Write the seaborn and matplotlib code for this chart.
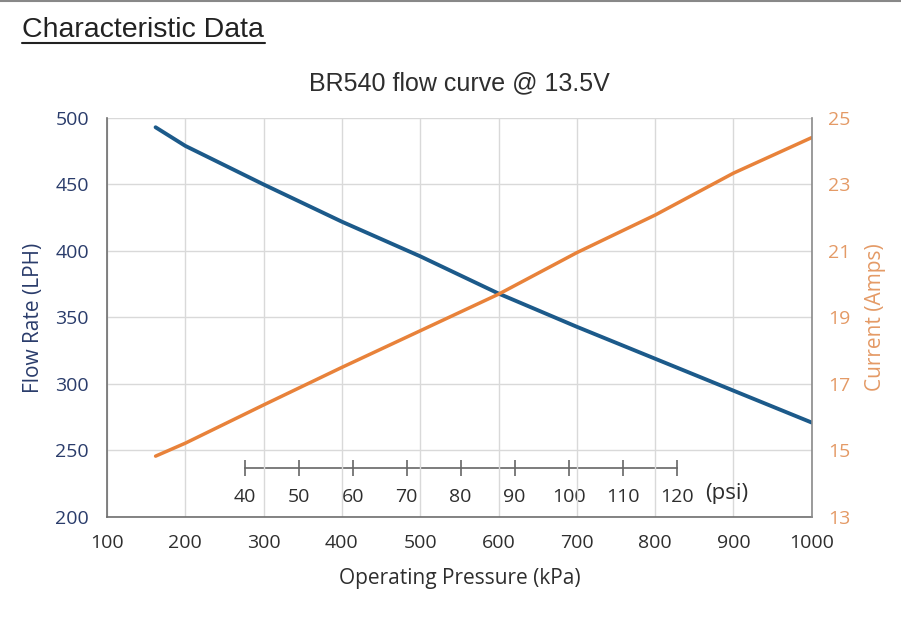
import seaborn as sns
import matplotlib.pyplot as plt
import pandas as pd
import numpy as np
from matplotlib.lines import Line2D

# values
pressure_kpa = [162, 200, 300, 400, 500, 600, 700, 800, 900, 1000]
flow_lph = [493, 479, 450, 422, 396, 368, 343, 319, 295, 271]
current_amps = [14.83, 15.22, 16.37, 17.5, 18.6, 19.7, 20.95, 22.08, 23.34, 24.41]

flow_ticks = [200, 250, 300, 350, 400, 450, 500]
amp_ticks = [13, 15, 17, 19, 21, 23, 25]
kpa_ticks = [100, 200, 300, 400, 500, 600, 700, 800, 900, 1000]
psi_ticks = [40, 50, 60, 70, 80, 90, 100, 110, 120]

KPA_PER_PSI = 6.89476

df = pd.DataFrame({"kPa": pressure_kpa, "flow": flow_lph, "amps": current_amps})

sns.set_style("white")
plt.rcParams["font.family"] = ["Open Sans", "DejaVu Sans"]

blue = "#1C5A8A"
navy = "#2A3C6B"
orange = "#E8823A"
orange_txt = "#E49A66"
grid_c = "#D9D9D9"
spine_c = "#6E6E6E"
text_c = "#2E2E2E"

fig = plt.figure(figsize=(9.01, 6.17), dpi=100)
ax = fig.add_axes([0.1188, 0.1621, 0.7821, 0.6467])

sns.lineplot(data=df, x="kPa", y="flow", ax=ax, color=blue, linewidth=2.8)
ax.set_xlim(100, 1000)
ax.set_ylim(200, 500)
ax.set_xticks(kpa_ticks)
ax.set_yticks(flow_ticks)
ax.grid(True, color=grid_c, linewidth=1)
ax.tick_params(axis="both", length=0, labelsize=14)
ax.tick_params(axis="x", pad=12, labelcolor=text_c)
ax.tick_params(axis="y", pad=13, labelcolor=navy)
ax.set_xlabel("Operating Pressure (kPa)", fontsize=15, color=text_c, labelpad=12)
ax.set_ylabel("Flow Rate (LPH)", fontsize=15, color=navy, labelpad=8)
for s in ["left", "bottom"]:
    ax.spines[s].set_color(spine_c)
    ax.spines[s].set_linewidth(1.2)
ax.spines["top"].set_visible(False)
ax.spines["right"].set_visible(False)

ax2 = ax.twinx()
sns.lineplot(data=df, x="kPa", y="amps", ax=ax2, color=orange, linewidth=2.5)
ax2.set_ylim(13, 25)
ax2.set_yticks(amp_ticks)
ax2.tick_params(axis="y", length=0, labelsize=14, pad=12, labelcolor=orange_txt)
ax2.set_ylabel("Current (Amps)", fontsize=15, color=orange_txt, labelpad=10)
ax2.spines["right"].set_color("#8A8A8A")
ax2.spines["right"].set_linewidth(1.2)
for s in ["left", "bottom", "top"]:
    ax2.spines[s].set_visible(False)

# inner psi scale
secax = ax.secondary_xaxis(0.1228, functions=(lambda k: k / KPA_PER_PSI,
                                              lambda p: p * KPA_PER_PSI))
secax.set_xticks(psi_ticks)
secax.spines["bottom"].set_bounds(40, 120)
secax.spines["bottom"].set_color("#666666")
secax.spines["bottom"].set_linewidth(1.2)
secax.tick_params(axis="x", direction="inout", length=11, width=1.2, color="#666666",
                  labelsize=14, labelcolor=text_c, pad=9)
ax.text(0.88, 0.058, "(psi)", transform=ax.transAxes, fontsize=16,
        color=text_c, ha="center", va="center")

ax.set_title("BR540 flow curve @ 13.5V", fontsize=18, color=text_c,
             family="Liberation Sans", pad=20)

fig.text(0.024, 0.94, "Characteristic Data", fontsize=20.5, family="Liberation Sans",
         color="#222222", ha="left", va="baseline")
fig.add_artist(Line2D([0.024, 0.294], [0.93, 0.93], transform=fig.transFigure,
                      color="#222222", linewidth=1.5))
fig.add_artist(Line2D([0, 1], [0.998, 0.998], transform=fig.transFigure,
                      color="#888888", linewidth=1.5))

fig.savefig("out.png", dpi=100)
